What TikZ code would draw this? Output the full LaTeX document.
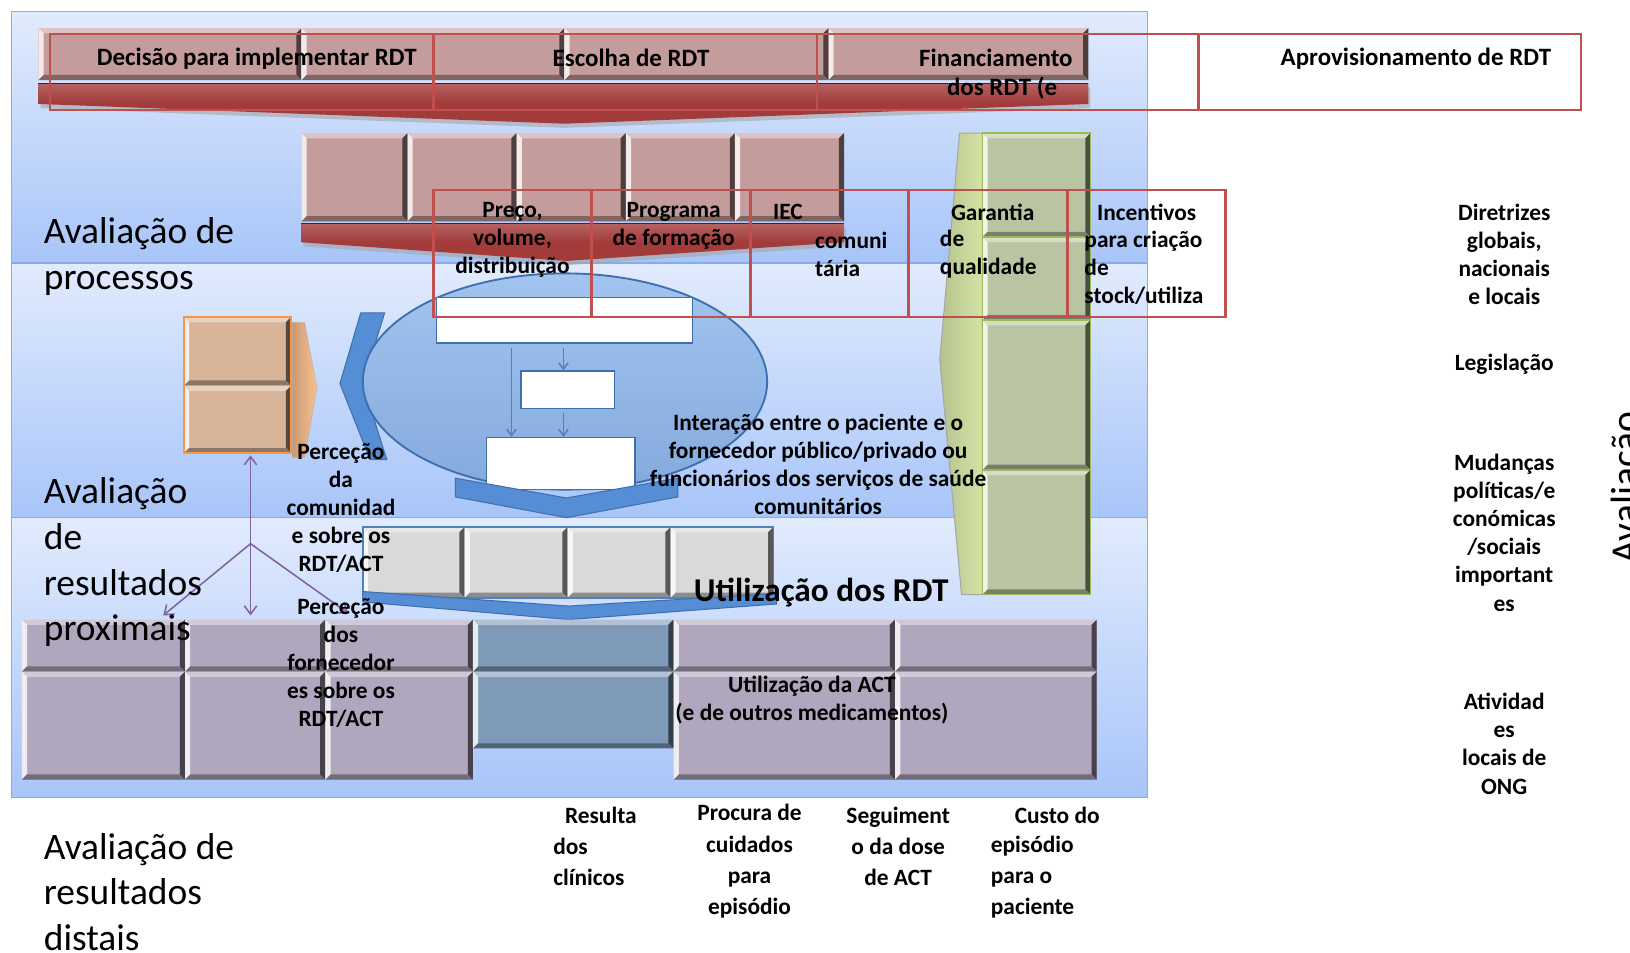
\documentclass[tikz,border=0pt]{standalone}
\usepackage{fontspec}
\setmainfont{Carlito}
\usetikzlibrary{arrows.meta}
\definecolor{bandtop}{HTML}{E1EBFD}
\definecolor{bandbot}{HTML}{A8C5F9}
\definecolor{bandline}{HTML}{86AEE6}
\definecolor{pinkbox}{HTML}{C49C9C}
\definecolor{redband}{HTML}{A33B3B}
\definecolor{tanbox}{HTML}{D8B598}
\definecolor{orangebd}{HTML}{F79646}
\definecolor{orangechev}{HTML}{FAC090}
\definecolor{bluechev}{HTML}{558ED5}
\definecolor{bluebd}{HTML}{3F6FAF}
\definecolor{ellitop}{HTML}{A2C4EF}
\definecolor{ellibot}{HTML}{84AADD}
\definecolor{graybox}{HTML}{D9D9D9}
\definecolor{purplebox}{HTML}{B0A6BE}
\definecolor{bluegray}{HTML}{7F9AB8}
\definecolor{greenbox}{HTML}{B9C5A2}
\definecolor{greenbd}{HTML}{9BBB59}
\definecolor{greenchev}{HTML}{D5E3A6}
\definecolor{parrowc}{HTML}{8064A2}
\definecolor{barrowc}{HTML}{4F81BD}
\definecolor{redout}{HTML}{C0504D}
\newcommand\bevbox[5]{%
  \fill[#5] (#1,#2) rectangle (#3,#4);
  \fill[#5!60!white] (#1,#2) -- (#3,#2) -- ({#3-5},{#2+5}) -- ({#1+5},{#2+5}) -- cycle;
  \fill[white!80!#5] (#1,#2) -- ({#1+5},{#2+5}) -- ({#1+5},{#4-5}) -- (#1,#4) -- cycle;
  \fill[#5!40!black] (#3,#2) -- (#3,#4) -- ({#3-5},{#4-5}) -- ({#3-5},{#2+5}) -- cycle;
  \fill[#5!65!black] (#1,#4) -- (#3,#4) -- ({#3-5},{#4-5}) -- ({#1+5},{#4-5}) -- cycle;
}
\begin{document}
\begin{tikzpicture}[x=1pt,y=-1pt,
  lab/.style={font=\bfseries\fontsize{22.5}{27}\selectfont, inner sep=0pt, align=center},
  labl/.style={font=\bfseries\fontsize{22.5}{27}\selectfont, inner sep=0pt, align=left, anchor=west},
  labtop/.style={font=\bfseries\fontsize{24}{29}\selectfont, inner sep=0pt, align=center},
  labb/.style={font=\bfseries\fontsize{22.5}{30}\selectfont, inner sep=0pt, align=center},
  labbl/.style={font=\bfseries\fontsize{22.5}{30}\selectfont, inner sep=0pt, align=left, anchor=west},
  biglab/.style={font=\fontsize{36}{44}\selectfont, inner sep=0pt, align=left, anchor=west},
  redbox/.style={draw=redout, line width=2.2pt},
  wbox/.style={draw=bluebd, fill=white, line width=1.5pt, inner sep=0pt},
  barrow/.style={draw=barrowc, line width=1.5pt, -{Straight Barb[length=6pt,width=9pt]}},
  parrow/.style={draw=parrowc, line width=1.5pt, -{Straight Barb[length=8pt,width=12pt]}},
  chev/.style={fill=bluechev, draw=bluebd, line width=1pt}
]
\useasboundingbox (0,0) rectangle (1568,916);
\fill[white] (0,0) rectangle (1568,916);

% background bands
\shade[top color=bandtop, bottom color=bandbot] (11,11) rectangle (1104,253);
\shade[top color=bandtop, bottom color=bandbot] (11,253) rectangle (1104,498);
\shade[top color=bandtop, bottom color=bandbot] (11,498) rectangle (1104,767);
\draw[bandline, line width=1.2pt] (11,253) -- (1104,253) (11,498) -- (1104,498);
\draw[bandline, line width=0.8pt] (11,11) rectangle (1104,767);

% row 1
\bevbox{37}{27}{290}{77}{pinkbox}
\bevbox{290}{27}{543}{77}{pinkbox}
\bevbox{543}{27}{797}{77}{pinkbox}
\bevbox{797}{27}{1047}{77}{pinkbox}
\fill[gray!70, opacity=0.6] (39,84) -- (1049,84) -- (1049,104) -- (543,123) -- (39,104) -- cycle;
\shade[top color=redband!80!white, bottom color=redband, middle color=redband] (37,80) -- (1047,80) -- (1047,100) -- (543,119) -- (37,100) -- cycle;
\draw[redband!50!black, line width=1pt] (37,80) -- (1047,80);

% row 2
\bevbox{290}{128}{392}{213}{pinkbox}
\bevbox{392}{128}{497}{213}{pinkbox}
\bevbox{497}{128}{602}{213}{pinkbox}
\bevbox{602}{128}{707}{213}{pinkbox}
\bevbox{707}{128}{812}{213}{pinkbox}
\fill[gray!70, opacity=0.6] (292,219) -- (814,219) -- (814,237) -- (546,255) -- (292,237) -- cycle;
\shade[top color=redband!80!white, bottom color=redband, middle color=redband] (290,215) -- (812,215) -- (812,233) -- (545,251) -- (290,233) -- cycle;
\draw[redband!50!black, line width=1pt] (290,215) -- (812,215);

% green column
\shade[left color=greenchev!85!black, right color=greenchev, draw=gray!70, line width=1pt] (923,128) -- (945,128) -- (945,572) -- (925,572) -- (904,346) -- cycle;
\bevbox{945}{128}{1049}{228}{greenbox}
\bevbox{945}{228}{1049}{308}{greenbox}
\bevbox{945}{308}{1049}{452}{greenbox}
\bevbox{945}{452}{1049}{572}{greenbox}
\draw[greenbd, line width=1.5pt] (945,128) rectangle (1049,572) (945,228) -- (1049,228) (945,308) -- (1049,308) (945,452) -- (1049,452);

% orange boxes
\bevbox{177}{305}{280}{371}{tanbox}
\bevbox{177}{371}{280}{436}{tanbox}
\draw[orangebd, line width=1.5pt] (177,305) rectangle (280,436) (177,371) -- (280,371);
\shade[left color=orangechev!80!black, right color=orangechev, draw=gray!60] (281,310) -- (293,310) -- (305,373) -- (293,440) -- (281,440) -- cycle;

% blue left chevron
\fill[chev] (347,301) -- (370,301) -- (349,369) -- (372,442) -- (356,442) -- (327,369) -- cycle;

% ellipse
\shade[top color=ellitop, bottom color=ellibot, draw=bluebd, line width=1.8pt] (543.5,367) ellipse [x radius=194.5pt, y radius=104pt];

% white boxes and arrows
\node[wbox, minimum width=246pt, minimum height=44pt] (r1) at (543,308) {};
\node[wbox, minimum width=90pt, minimum height=36pt] (r2) at (546,375) {};
\node[wbox, minimum width=143pt, minimum height=50pt] (r3) at (539.5,446) {};
\coordinate (ax1) at (492,0);
\coordinate (ax2) at (542,0);
\draw[barrow, shorten <=4pt] (r1.south -| ax1) -- (r3.north -| ax1);
\draw[barrow, shorten <=4pt] (r1.south -| ax2) -- (r2.north -| ax2);
\draw[barrow, shorten <=4pt] (r2.south -| ax2) -- (r3.north -| ax2);

% blue down chevron
\fill[chev] (438,460) -- (545,479) -- (652,460) -- (652,478) -- (545,498) -- (438,478) -- cycle;

% gray boxes
\bevbox{349}{507}{447}{575}{graybox}
\bevbox{447}{507}{546}{575}{graybox}
\bevbox{546}{507}{645}{575}{graybox}
\bevbox{645}{507}{744}{575}{graybox}
\draw[barrowc, line width=1.5pt] (349,507) rectangle (744,575);
\fill[chev] (349,569) -- (547,583) -- (747,571) -- (747,581) -- (547,596) -- (349,579) -- cycle;

% purple row
\bevbox{21}{596}{178}{646}{purplebox}
\bevbox{21}{646}{178}{750}{purplebox}
\bevbox{178}{596}{313}{646}{purplebox}
\bevbox{178}{646}{313}{750}{purplebox}
\bevbox{313}{596}{455}{646}{purplebox}
\bevbox{313}{646}{455}{750}{purplebox}
\bevbox{455}{596}{648}{646}{bluegray}
\bevbox{455}{646}{648}{720}{bluegray}
\bevbox{648}{596}{861}{646}{purplebox}
\bevbox{648}{646}{861}{750}{purplebox}
\bevbox{861}{596}{1055}{646}{purplebox}
\bevbox{861}{646}{1055}{750}{purplebox}

% purple arrows
\coordinate (pv) at (241,523);
\coordinate (pt) at (241,438);
\coordinate (pb) at (241,592);
\coordinate (pl) at (157,592);
\coordinate (pr) at (335,590);
\draw[parrow] (pv) -- (pt);
\draw[parrow] (pv) -- (pb);
\draw[parrow] (pv) -- (pl);
\draw[parrow] (pv) -- (pr);

% red outlines
\draw[redbox] (48,33) rectangle (1521,106);
\draw[redbox] (417,33) -- (417,106) (786,33) -- (786,106) (1153,33) -- (1153,106);
\draw[redbox] (417,183) rectangle (1179,305);
\draw[redbox] (569,183) -- (569,305) (722,183) -- (722,305) (874,183) -- (874,305) (1027,183) -- (1027,305);

% texts
\node[labtop] (t1) at (247,56) {Decisão para implementar RDT};
\node[labtop] (t2) at (607,56) {Escolha de RDT};
\node[labtop] (t3) at (958,56) {Financiamento};
\node[labtop] (t3b) at (964,85) {dos RDT (e};
\node[labtop] (t4) at (1362,56) {Aprovisionamento de RDT};
\node[lab] (t5) at (493,231) {Preço,\\volume,\\distribuição};
\node[lab] (t6) at (648,217.5) {Programa\\de formação};
\node[lab] (t7) at (758,204) {IEC};
\node[labl] (t8) at (784,244.5) {comuni\\tária};
\node[lab] (t9) at (955,204) {Garantia};
\node[labl] (t10) at (904,244.5) {de\\qualidade};
\node[lab] (t11) at (1103,204) {Incentivos};
\node[labl] (t12) at (1043,258) {para criação\\de\\stock/utiliza};
\node[lab] (t13) at (1447,244.5) {Diretrizes\\globais,\\nacionais\\e locais};
\node[lab] (t14) at (1447,350) {Legislação};
\node[lab] (t15) at (1447,512.5) {Mudanças\\políticas/e\\conómicas\\/sociais\\important\\es};
\node[lab] (t16) at (1447,715.5) {Atividad\\es\\locais de\\ONG};
\node[lab] (t17) at (328,488.5) {Perceção\\da\\comunidad\\e sobre os\\RDT/ACT};
\node[lab] (t18) at (328,637.5) {Perceção\\dos\\fornecedor\\es sobre os\\RDT/ACT};
\node[lab] (t19) at (787,446.5) {Interação entre o paciente e o\\fornecedor público/privado ou\\funcionários dos serviços de saúde\\comunitários};
\node[lab, font=\bfseries\fontsize{32}{34}\selectfont] (t20) at (790,570) {Utilização dos RDT};
\node[lab] (t21) at (781,673.5) {Utilização da ACT\\(e de outros medicamentos)};
\node[labb] (t22) at (578,784) {Resulta};
\node[labbl] (t22b) at (532,829) {dos\\clínicos};
\node[labb] (t23) at (721,828.5) {Procura de\\cuidados\\para\\episódio};
\node[labb] (t24) at (864,814) {Seguiment\\o da dose\\de ACT};
\node[labb] (t25) at (1017,784) {Custo do};
\node[labbl] (t25b) at (953,843.5) {episódio\\para o\\paciente};
\node[biglab] (l1) at (42,247) {Avaliação de\\processos};
\node[biglab] (l2) at (42,541) {Avaliação\\de\\resultados\\proximais};
\node[biglab] (l3) at (42,858) {Avaliação de\\resultados\\distais};
\node[font=\fontsize{38}{44}\selectfont, inner sep=0pt, rotate=90, anchor=north west] (l4) at (1550,542) {Avaliação};
\end{tikzpicture}
\end{document}
